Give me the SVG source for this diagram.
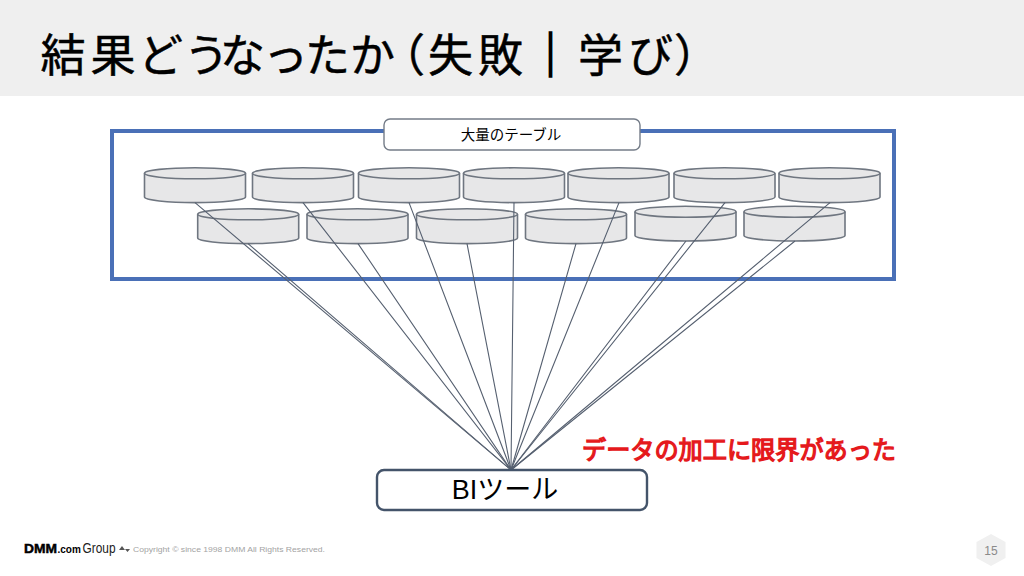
<svg xmlns="http://www.w3.org/2000/svg" width="1024" height="576" viewBox="0 0 1024 576">
<style>
text{font-family:"Liberation Sans","Noto Sans CJK JP",sans-serif}
.body{fill:#e7e7e8;stroke:#6f7680;stroke-width:1.6}
.lip{fill:#e7e7e8;stroke:#6f7680;stroke-width:1.6}
.conn{stroke:#566070;stroke-width:1.1;fill:none}
</style>
<defs>
<g id="cyl">
<path class="body" d="M0 5.700V29.500C0 32.600 22.600 35 50.500 35S101 32.600 101 29.500V5.700"/>
<ellipse class="lip" cx="50.500" cy="5.700" rx="50.500" ry="5.500"/>
</g>
</defs>
<rect x="0" y="0" width="1024" height="96" fill="#efefef"/>
<text id="title" y="72" font-size="45" fill="#000" stroke="#000" stroke-width=".5" x="40.500 90.500 138 184 220 263 305 350 380 428 478 528 578 628 674">結果どうなったか（失敗<tspan font-weight="700" stroke-width="1.600">｜</tspan>学び）</text>
<g id="container"><rect x="112" y="131" width="782" height="148" fill="#fff" stroke="#4a70b7" stroke-width="4"/></g>
<g id="label-box"><rect x="384" y="119" width="256" height="31" rx="6" fill="#fff" stroke="#747c88" stroke-width="1.400"/><text x="511" y="140" font-size="14.500" text-anchor="middle" fill="#000">大量のテーブル</text></g>
<g id="t1"><use href="#cyl" x="144.500" y="167.600"/></g>
<g id="t2"><use href="#cyl" x="252.500" y="167.600"/></g>
<g id="t3"><use href="#cyl" x="358.500" y="167.600"/></g>
<g id="t4"><use href="#cyl" x="463.500" y="167.600"/></g>
<g id="t5"><use href="#cyl" x="568" y="167.600"/></g>
<g id="t6"><use href="#cyl" x="674" y="167.600"/></g>
<g id="t7"><use href="#cyl" x="779" y="167.600"/></g>
<g id="b1"><use href="#cyl" x="197.700" y="208.600"/></g>
<g id="b2"><use href="#cyl" x="307" y="208.600"/></g>
<g id="b3"><use href="#cyl" x="416.500" y="208.600"/></g>
<g id="b4"><use href="#cyl" x="525.500" y="208.600"/></g>
<g id="b5"><use href="#cyl" x="635" y="206"/></g>
<g id="b6"><use href="#cyl" x="744" y="206"/></g>
<g id="connectors">
<path class="conn" d="M195 202.600L511 470M303 202.600L511 470M409 202.600L511 470M514 202.600L511 470M619 202.600L511 470M725 202.600L511 470M830 202.600L511 470"/>
<path class="conn" d="M248 243.600L511 470M358 243.600L511 470M467 243.600L511 470M576 243.600L511 470M686 241L511 470M795 241L511 470"/>
</g>
<g id="bi"><rect x="377" y="470" width="270" height="40" rx="7" fill="#fff" stroke="#44546a" stroke-width="2.400"/><text x="505" y="499" font-size="27" text-anchor="middle" fill="#000">BIツール</text></g>
<text id="note" x="582" y="459" font-size="24.500" textLength="314" lengthAdjust="spacingAndGlyphs" fill="#e5191c" stroke="#e5191c" stroke-width="1.300">データの加工に限界があった</text>
<g id="footer">
<text x="24" y="553" font-size="13.500" font-weight="700" fill="#000" stroke="#000" stroke-width=".5" textLength="33" lengthAdjust="spacingAndGlyphs">DMM</text>
<text x="57.500" y="553" font-size="10" font-weight="700" fill="#000">.com</text>
<text x="82.500" y="553" font-size="14" fill="#222" textLength="33" lengthAdjust="spacingAndGlyphs">Group</text>
<path d="M119 550l3-4 3 4zM125 549h5l-2.500 3z" fill="#555"/>
<text x="133" y="552" font-size="8" fill="#a3a3a3" textLength="192" lengthAdjust="spacingAndGlyphs">Copyright © since 1998 DMM All Rights Reserved.</text>
</g>
<g id="page"><path d="M991 534L1005.500 542V558L991 566L976.500 558V542Z" fill="#f0f0f0"/><text x="991" y="555" font-size="12" text-anchor="middle" fill="#8a8a8a">15</text></g>
</svg>
